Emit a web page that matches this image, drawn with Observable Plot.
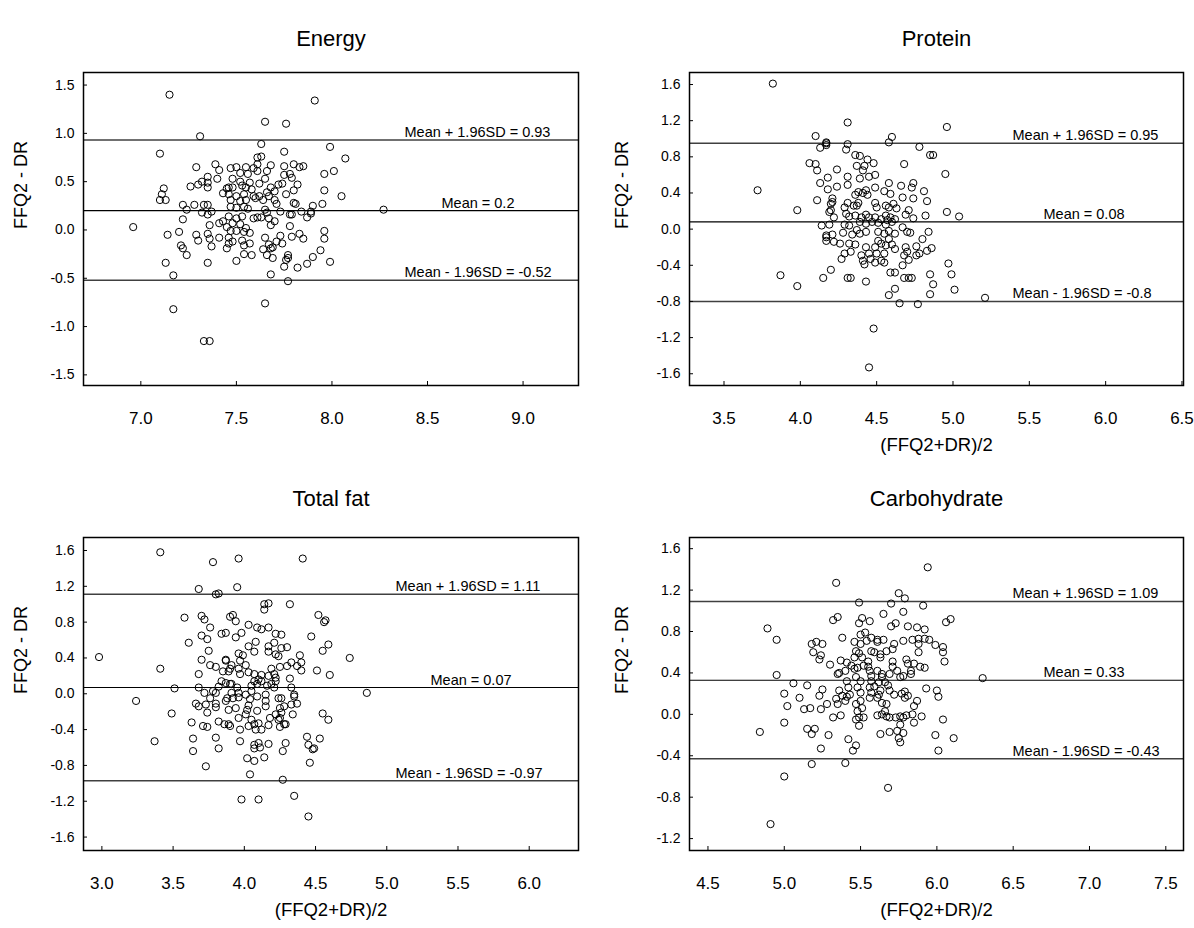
<!DOCTYPE html>
<html><head><meta charset="utf-8">
<script src="https://cdn.jsdelivr.net/npm/d3@7"></script>
<script src="https://cdn.jsdelivr.net/npm/@observablehq/plot@0.6"></script>
<style>
body{margin:0;background:#fff;}
#wrap{position:relative;width:1194px;height:928px;background:#fff;font-family:"Liberation Sans",Arial,sans-serif;}
#wrap svg{position:absolute;overflow:visible;}
</style></head><body><div id="wrap"></div>
<script>
// ---------------- data ----------------
const panelTitles = ["Energy", "Protein", "Total fat", "Carbohydrate"];
const yAxisTitle = "FFQ2 - DR";
const xAxisTitle = "(FFQ2+DR)/2";

// [upper limit, mean, lower limit]
const energyLimits = [0.93, 0.2, -0.52];
const proteinLimits = [0.95, 0.08, -0.8];
const fatLimits = [1.11, 0.07, -0.97];
const carbLimits = [1.09, 0.33, -0.43];

const energyXTicks = [7.0, 7.5, 8.0, 8.5, 9.0];
const energyYTicks = [-1.5, -1.0, -0.5, 0, 0.5, 1.0, 1.5];
const proteinXTicks = [3.5, 4.0, 4.5, 5.0, 5.5, 6.0, 6.5];
const proteinYTicks = [-1.6, -1.2, -0.8, -0.4, 0, 0.4, 0.8, 1.2, 1.6];
const fatXTicks = [3.0, 3.5, 4.0, 4.5, 5.0, 5.5, 6.0];
const fatYTicks = [-1.6, -1.2, -0.8, -0.4, 0, 0.4, 0.8, 1.2, 1.6];
const carbXTicks = [4.5, 5.0, 5.5, 6.0, 6.5, 7.0, 7.5];
const carbYTicks = [-1.2, -0.8, -0.4, 0, 0.4, 0.8, 1.2, 1.6];

// [mean of FFQ2 and DR, difference]
const energyPts = [
[7.15,1.40],[7.31,0.97],[7.10,0.79],[7.29,0.65],[7.39,0.68],[7.41,0.62],[7.12,0.43],[7.11,0.37],[7.10,0.31],[7.13,0.31],
[7.26,0.45],[7.30,0.47],[7.32,0.50],[7.35,0.55],[7.35,0.49],[7.35,0.44],[7.40,0.53],[7.43,0.38],[7.45,0.43],[7.22,0.26],
[7.24,0.21],[7.28,0.26],[7.33,0.26],[7.35,0.26],[7.32,0.18],[7.35,0.16],[7.37,0.19],[7.22,0.11],[7.36,0.05],[7.41,0.07],
[7.43,0.09],[7.45,0.03],[6.96,0.03],[7.14,-0.05],[7.20,-0.02],[7.29,-0.05],[7.30,-0.11],[7.35,-0.04],[7.36,-0.09],[7.41,-0.08],
[7.37,-0.17],[7.45,-0.19],[7.46,-0.14],[7.21,-0.16],[7.22,-0.19],[7.24,-0.26],[7.13,-0.34],[7.35,-0.34],[7.17,-0.47],[7.17,-0.82],
[7.33,-1.15],[7.36,-1.15],
[7.91,1.34],[7.65,1.12],[7.76,1.10],[7.63,0.89],[7.99,0.86],[7.75,0.81],[8.07,0.74],[7.61,0.75],[7.63,0.76],[7.68,0.67],
[7.75,0.66],[7.80,0.68],[7.83,0.65],[7.85,0.66],[8.01,0.61],[7.96,0.58],[7.47,0.64],[7.50,0.65],[7.55,0.65],[7.59,0.64],
[7.61,0.68],[7.52,0.59],[7.56,0.58],[7.61,0.61],[7.66,0.61],[7.78,0.58],[7.79,0.54],[7.75,0.57],[7.48,0.53],[7.52,0.50],
[7.57,0.49],[7.62,0.48],[7.65,0.53],[7.72,0.47],[7.74,0.48],[7.82,0.47],[7.46,0.44],[7.48,0.44],[7.53,0.46],[7.55,0.44],
[7.58,0.42],[7.68,0.44],[7.70,0.40],[7.66,0.39],[7.80,0.41],[7.96,0.41],[7.46,0.37],[7.50,0.35],[7.54,0.37],[7.59,0.35],
[7.62,0.35],[7.67,0.35],[7.70,0.31],[7.76,0.37],[8.05,0.35],[7.47,0.31],[7.52,0.30],[7.55,0.31],[7.60,0.33],[7.64,0.31],
[7.80,0.28],[7.81,0.27],[7.90,0.25],[7.95,0.27],[7.47,0.24],[7.50,0.23],[7.54,0.24],[7.56,0.22],[7.65,0.21],[7.71,0.27],
[7.73,0.19],[7.84,0.19],[7.89,0.19],[7.89,0.17],[7.87,0.13],[8.27,0.21],[7.78,0.16],[7.79,0.16],[7.46,0.14],[7.50,0.12],
[7.53,0.14],[7.59,0.12],[7.61,0.13],[7.63,0.13],[7.66,0.18],[7.67,0.12],[7.70,0.09],[7.68,0.05],[7.48,0.07],[7.52,0.06],
[7.55,0.02],[7.47,-0.01],[7.50,-0.01],[7.54,-0.02],[7.57,-0.03],[7.78,0.04],[7.96,-0.01],[7.96,-0.09],[7.83,-0.04],[7.85,-0.09],
[7.79,-0.07],[7.73,-0.06],[7.46,-0.08],[7.48,-0.12],[7.53,-0.11],[7.57,-0.14],[7.54,-0.16],[7.65,-0.08],[7.67,-0.15],[7.71,-0.12],
[7.74,-0.14],[7.69,-0.18],[7.68,-0.19],[7.64,-0.20],[7.54,-0.25],[7.58,-0.26],[7.66,-0.26],[7.69,-0.29],[7.77,-0.26],[7.77,-0.29],
[7.76,-0.31],[7.94,-0.21],[7.90,-0.28],[7.87,-0.35],[7.82,-0.39],[7.99,-0.33],[7.75,-0.38],[7.50,-0.32],[7.68,-0.46],[7.77,-0.53],
[7.65,-0.76]
];

const proteinPts = [
[3.82,1.61],[4.10,1.03],[4.17,0.95],[4.17,0.93],[4.17,0.96],[4.13,0.90],[4.06,0.73],[4.10,0.72],[4.11,0.65],[4.18,0.57],
[4.13,0.51],[4.18,0.44],[3.72,0.43],[4.11,0.32],[3.98,0.21],[4.20,0.28],[4.20,0.21],[4.14,0.04],[4.19,0.05],[4.17,-0.07],
[4.17,-0.09],[4.17,-0.13],[3.87,-0.51],[3.98,-0.63],[4.15,-0.54],[4.20,-0.45],
[4.31,1.18],[4.96,1.13],[4.58,0.96],[4.60,1.02],[4.31,0.94],[4.30,0.88],[4.78,0.91],[4.85,0.82],[4.87,0.82],[4.36,0.82],
[4.39,0.81],[4.44,0.77],[4.48,0.73],[4.42,0.70],[4.68,0.72],[4.37,0.70],[4.41,0.65],[4.24,0.66],[4.95,0.61],[4.49,0.60],
[4.45,0.58],[4.39,0.56],[4.31,0.58],[4.31,0.49],[4.24,0.47],[4.58,0.51],[4.66,0.48],[4.74,0.51],[4.73,0.46],[4.49,0.46],
[4.43,0.43],[4.41,0.40],[4.44,0.38],[4.38,0.41],[4.36,0.38],[4.55,0.42],[4.59,0.39],[4.81,0.42],[4.67,0.35],[4.74,0.34],
[4.83,0.31],[4.21,0.34],[4.21,0.30],[4.29,0.24],[4.31,0.29],[4.35,0.26],[4.38,0.29],[4.37,0.26],[4.49,0.29],[4.50,0.24],
[4.56,0.26],[4.58,0.24],[4.61,0.28],[4.63,0.23],[4.69,0.16],[4.71,0.21],[4.74,0.12],[4.82,0.15],[4.96,0.19],[5.04,0.14],
[4.19,0.19],[4.22,0.13],[4.30,0.17],[4.32,0.14],[4.36,0.15],[4.40,0.13],[4.43,0.16],[4.45,0.13],[4.49,0.13],[4.53,0.11],
[4.56,0.15],[4.57,0.10],[4.59,0.13],[4.62,0.11],[4.29,0.05],[4.32,0.04],[4.39,0.08],[4.43,0.06],[4.47,0.08],[4.51,0.07],
[4.56,0.05],[4.60,0.08],[4.21,-0.06],[4.28,-0.04],[4.34,-0.06],[4.37,-0.01],[4.39,-0.05],[4.43,-0.03],[4.51,-0.03],[4.55,-0.05],
[4.58,-0.02],[4.62,-0.05],[4.67,0.02],[4.70,-0.03],[4.72,-0.04],[4.80,-0.11],[4.84,-0.03],[4.22,-0.14],[4.26,-0.16],[4.32,-0.16],
[4.36,-0.17],[4.43,-0.20],[4.49,-0.20],[4.51,-0.13],[4.53,-0.16],[4.56,-0.18],[4.58,-0.11],[4.60,-0.17],[4.62,-0.22],[4.69,-0.20],
[4.70,-0.25],[4.76,-0.19],[4.78,-0.27],[4.83,-0.24],[4.86,-0.21],[4.29,-0.27],[4.27,-0.33],[4.33,-0.25],[4.40,-0.29],[4.41,-0.35],
[4.45,-0.27],[4.46,-0.33],[4.42,-0.39],[4.49,-0.37],[4.53,-0.35],[4.55,-0.37],[4.50,-0.27],[4.55,-0.27],[4.68,-0.29],[4.71,-0.34],
[4.67,-0.40],[4.76,-0.29],[4.31,-0.54],[4.33,-0.54],[4.43,-0.58],[4.59,-0.48],[4.62,-0.48],[4.68,-0.54],[4.71,-0.54],[4.73,-0.54],
[4.85,-0.50],[4.97,-0.38],[4.99,-0.50],[4.87,-0.61],[4.85,-0.72],[5.01,-0.67],[4.62,-0.66],[4.58,-0.73],[4.65,-0.82],[4.77,-0.83],
[4.48,-1.10],[4.45,-1.53],[5.21,-0.76]
];

const fatPts = [
[3.78,1.47],[3.68,1.17],[3.80,1.11],[3.82,1.12],[3.58,0.85],[3.70,0.87],[3.72,0.83],[3.76,0.74],[3.84,0.67],[3.87,0.68],
[3.90,0.86],[3.61,0.57],[3.70,0.65],[3.74,0.61],[3.75,0.48],[3.70,0.38],[3.76,0.32],[3.80,0.30],[3.87,0.38],[2.98,0.41],
[3.41,0.28],[3.68,0.22],[3.85,0.25],[3.90,0.28],[3.84,0.14],[3.90,0.11],[3.51,0.06],[3.68,0.07],[3.82,0.08],[3.78,0.03],
[3.72,0.01],[3.76,-0.05],[3.80,0.01],[3.24,-0.08],[3.87,-0.08],[3.66,-0.11],[3.68,-0.14],[3.73,-0.12],[3.80,-0.11],[3.80,-0.15],
[3.74,-0.21],[3.49,-0.22],[3.63,-0.32],[3.71,-0.36],[3.74,-0.37],[3.82,-0.31],[3.86,-0.34],[3.90,-0.36],[3.64,-0.50],[3.80,-0.49],
[3.82,-0.61],[3.64,-0.64],[3.37,-0.53],[3.73,-0.81],[3.41,1.58],[3.96,1.51],[4.41,1.51],
[3.95,1.19],[4.14,1.00],[4.17,1.01],[4.14,0.94],[4.32,1.00],[4.52,0.88],[4.57,0.82],[4.56,0.80],[3.92,0.88],[3.94,0.81],
[3.98,0.68],[4.03,0.77],[4.09,0.74],[4.12,0.72],[4.17,0.74],[4.22,0.67],[4.26,0.66],[3.94,0.63],[4.47,0.64],[4.59,0.55],
[4.55,0.48],[4.74,0.40],[4.08,0.58],[4.03,0.53],[4.07,0.47],[3.96,0.45],[3.99,0.43],[3.97,0.37],[4.17,0.53],[4.21,0.57],
[4.17,0.47],[4.22,0.44],[4.24,0.42],[4.26,0.51],[4.30,0.52],[4.39,0.43],[4.40,0.35],[4.37,0.31],[4.40,0.26],[4.33,0.35],
[4.30,0.31],[4.25,0.30],[4.19,0.28],[4.21,0.22],[4.22,0.18],[4.17,0.20],[4.19,0.11],[4.51,0.26],[4.60,0.21],[4.32,0.17],
[3.87,0.37],[3.91,0.32],[3.89,0.25],[3.87,0.12],[3.96,0.28],[4.01,0.32],[4.03,0.24],[3.97,0.22],[4.07,0.22],[4.10,0.16],
[4.12,0.21],[4.07,0.14],[4.05,0.09],[4.09,0.11],[4.12,0.14],[4.16,0.09],[4.21,0.07],[4.22,0.14],[4.33,0.07],[4.35,-0.01],
[4.35,-0.03],[4.37,-0.11],[4.33,-0.12],[4.34,-0.23],[4.86,0.01],[3.91,0.11],[3.95,0.07],[3.91,0.01],[3.96,0.01],[3.88,-0.05],
[3.92,-0.05],[3.96,-0.04],[4.01,-0.01],[4.05,0.03],[4.04,-0.06],[4.09,-0.03],[4.15,-0.01],[4.15,-0.08],[4.15,-0.14],[4.24,-0.05],
[4.26,-0.05],[4.28,-0.14],[4.25,-0.16],[4.26,-0.21],[4.25,-0.27],[4.29,-0.34],[4.03,-0.13],[4.02,-0.18],[4.09,-0.19],[4.01,-0.23],
[3.96,-0.27],[3.94,-0.16],[3.89,-0.18],[3.89,-0.34],[4.05,-0.29],[4.07,-0.34],[4.10,-0.33],[4.08,-0.40],[4.12,-0.40],[3.97,-0.40],
[4.03,-0.36],[3.97,-0.53],[4.18,-0.27],[4.17,-0.35],[4.22,-0.23],[4.24,-0.29],[4.28,-0.34],[4.25,-0.37],[4.55,-0.22],[4.59,-0.29],
[4.44,-0.48],[4.53,-0.50],[4.45,-0.57],[4.49,-0.61],[4.48,-0.62],[4.46,-0.77],[4.07,-0.57],[4.10,-0.55],[4.11,-0.60],[4.17,-0.56],
[4.07,-0.61],[4.29,-0.55],[4.27,-0.64],[4.02,-0.72],[4.07,-0.75],[4.14,-0.71],[4.04,-0.90],[4.27,-0.96],[3.98,-1.18],[4.10,-1.18],
[4.35,-1.14],[4.45,-1.37]
];

const carbPts = [
[4.89,0.83],[4.95,0.72],[5.18,0.68],[5.21,0.70],[5.25,0.68],[5.19,0.60],[5.24,0.57],[5.23,0.53],[4.95,0.38],[5.06,0.30],
[5.15,0.28],[5.25,0.24],[5.00,0.20],[5.10,0.16],[5.23,0.18],[5.02,0.08],[5.13,0.05],[5.17,0.06],[5.24,0.05],[5.00,-0.08],
[4.84,-0.17],[5.15,-0.14],[5.20,-0.14],[5.18,-0.19],[5.24,-0.33],[5.18,-0.48],[5.00,-0.60],[4.91,-1.06],
[5.94,1.42],[5.34,1.27],[5.75,1.17],[5.79,1.12],[5.49,1.08],[5.70,1.07],[5.91,1.05],[5.78,0.99],[5.65,0.97],[5.32,0.91],
[5.35,0.94],[5.51,0.93],[5.56,0.90],[5.49,0.88],[5.73,0.88],[5.70,0.85],[5.81,0.85],[5.87,0.84],[5.92,0.82],[6.09,0.92],
[6.06,0.89],[5.38,0.74],[5.46,0.70],[5.50,0.68],[5.54,0.71],[5.50,0.77],[5.53,0.79],[5.57,0.74],[5.61,0.70],[5.61,0.72],
[5.65,0.72],[5.72,0.68],[5.78,0.71],[5.84,0.72],[5.88,0.73],[5.92,0.73],[5.95,0.72],[5.99,0.67],[6.04,0.65],[6.04,0.60],
[5.88,0.68],[5.88,0.60],[6.05,0.51],[5.47,0.61],[5.49,0.59],[5.57,0.61],[5.59,0.60],[5.63,0.58],[5.67,0.61],[5.71,0.63],
[5.63,0.55],[5.46,0.55],[5.51,0.55],[5.55,0.51],[5.52,0.47],[5.48,0.45],[5.44,0.47],[5.41,0.50],[5.37,0.52],[5.30,0.48],
[5.71,0.51],[5.71,0.46],[5.80,0.53],[5.81,0.49],[5.85,0.49],[5.89,0.46],[5.92,0.45],[5.74,0.42],[5.64,0.39],[5.61,0.42],
[5.35,0.39],[5.40,0.42],[5.46,0.44],[5.55,0.46],[5.56,0.42],[5.57,0.37],[5.64,0.36],[5.69,0.39],[5.76,0.36],[5.78,0.37],
[5.83,0.39],[5.83,0.42],[5.36,0.40],[5.47,0.36],[5.50,0.32],[5.57,0.32],[5.59,0.27],[5.62,0.31],[5.66,0.31],[5.68,0.28],
[6.30,0.35],[5.41,0.32],[5.42,0.26],[5.36,0.23],[5.38,0.18],[5.34,0.15],[5.35,0.10],[5.41,0.17],[5.43,0.19],[5.40,0.13],
[5.32,-0.03],[5.37,-0.01],[5.28,0.10],[5.29,-0.20],[5.48,0.26],[5.50,0.21],[5.50,0.13],[5.47,0.10],[5.51,0.06],[5.48,0.03],
[5.47,-0.05],[5.49,-0.03],[5.52,-0.03],[5.49,-0.11],[5.56,0.26],[5.57,0.21],[5.56,0.16],[5.61,0.16],[5.62,0.19],[5.63,0.23],
[5.69,0.23],[5.64,0.11],[5.67,0.10],[5.66,0.03],[5.64,0.00],[5.61,-0.01],[5.67,-0.02],[5.69,-0.03],[5.73,-0.03],[5.76,-0.02],
[5.78,-0.03],[5.80,-0.01],[5.84,0.00],[5.85,-0.08],[5.90,-0.02],[5.72,0.19],[5.77,0.20],[5.79,0.22],[5.81,0.18],[5.79,0.16],
[5.87,0.13],[5.85,0.08],[5.93,0.25],[6.00,0.23],[6.01,0.17],[6.04,-0.05],[5.76,-0.10],[5.74,-0.16],[5.78,-0.18],[5.75,-0.23],
[5.76,-0.27],[5.69,-0.17],[5.63,-0.19],[5.99,-0.20],[6.01,-0.35],[6.11,-0.23],[5.42,-0.24],[5.47,-0.30],[5.45,-0.35],[5.40,-0.47],
[5.68,-0.71]
];

// ---------------- layout ----------------
const panels = [
  {title: panelTitles[0], pts: energyPts, limits: energyLimits, xDomain: [6.70, 9.29], yDomain: [-1.61, 1.63],
   xTicks: energyXTicks, yTicks: energyYTicks, left: 0, top: 0, mL: 83, mR: 19, mT: 72,
   xTitle: false, sdDx: 321, meanDx: 358, yTitleDx: -62, titleDy: -42},
  {title: panelTitles[1], pts: proteinPts, limits: proteinLimits, xDomain: [3.274, 6.51], yDomain: [-1.73, 1.733],
   xTicks: proteinXTicks, yTicks: proteinYTicks, left: 597, top: 0, mL: 92, mR: 11, mT: 72,
   xTitle: true, sdDx: 323, meanDx: 354, yTitleDx: -67, titleDy: -42},
  {title: panelTitles[2], pts: fatPts, limits: fatLimits, xDomain: [2.871, 6.346], yDomain: [-1.75, 1.745],
   xTicks: fatXTicks, yTicks: fatYTicks, left: 0, top: 464, mL: 83, mR: 19, mT: 73,
   xTitle: true, sdDx: 312, meanDx: 347, yTitleDx: -62, titleDy: -47},
  {title: panelTitles[3], pts: carbPts, limits: carbLimits, xDomain: [4.379, 7.616], yDomain: [-1.315, 1.708],
   xTicks: carbXTicks, yTicks: carbYTicks, left: 597, top: 464, mL: 92, mR: 11, mT: 73,
   xTitle: true, sdDx: 323, meanDx: 354, yTitleDx: -67, titleDy: -47}
];

const fmt = d => d.toFixed(1);
const FONT = "Liberation Sans, Arial, Helvetica, sans-serif";

function makePanel(p) {
  const W = 597, H = 464, fh = 313;
  const fw = W - p.mL - p.mR;
  const mB = H - p.mT - fh;
  const [up, mean, lo] = p.limits;
  const marks = [
    Plot.ruleY([up, lo], {stroke: "#404040", strokeWidth: 1.5}),
    Plot.ruleY([mean], {stroke: "#000", strokeWidth: 1.1}),
    Plot.dot(p.pts, {x: d => d[0], y: d => d[1], r: 3.6, stroke: "#000", strokeWidth: 1, fill: "none"}),
    Plot.frame({stroke: "#000", strokeWidth: 1.5}),
    Plot.tickX(p.xTicks, {x: d => d, insetTop: fh - 4, stroke: "#000", strokeWidth: 1}),
    Plot.tickY(p.yTicks, {y: d => d, insetRight: fw - 4, stroke: "#000", strokeWidth: 1}),
    Plot.axisX({ticks: p.xTicks, tickSize: 0, tickPadding: 26, tickFormat: fmt, fontSize: 17, label: null}),
    Plot.axisY({ticks: p.yTicks, tickSize: 0, tickPadding: 9, tickFormat: fmt, fontSize: 14, label: null}),
    Plot.text([{v: up, t: `Mean + 1.96SD = ${up}`}, {v: lo, t: `Mean - 1.96SD = ${lo}`}],
      {y: "v", text: "t", frameAnchor: "left", dx: p.sdDx, textAnchor: "start", lineAnchor: "bottom", dy: -3, fontSize: 14.5}),
    Plot.text([{v: mean, t: `Mean = ${mean}`}],
      {y: "v", text: "t", frameAnchor: "left", dx: p.meanDx, textAnchor: "start", lineAnchor: "bottom", dy: -3, fontSize: 14.5}),
    Plot.text([p.title], {text: d => d, frameAnchor: "top", dy: p.titleDy, fontSize: 22}),
    Plot.text([yAxisTitle], {text: d => d, frameAnchor: "left", dx: p.yTitleDx, rotate: -90, fontSize: 18})
  ];
  if (p.xTitle) marks.push(Plot.text([xAxisTitle], {text: d => d, frameAnchor: "bottom", dy: 65, fontSize: 18.5}));
  const svg = Plot.plot({
    width: W, height: H,
    marginLeft: p.mL, marginRight: p.mR, marginTop: p.mT, marginBottom: mB,
    x: {domain: p.xDomain},
    y: {domain: p.yDomain},
    style: {fontFamily: FONT, fontSize: "13px", color: "#000", background: "transparent", overflow: "visible"},
    marks
  });
  svg.style.left = p.left + "px";
  svg.style.top = p.top + "px";
  return svg;
}

const wrap = document.getElementById("wrap");
panels.forEach(p => wrap.appendChild(makePanel(p)));
</script>
</body></html>
